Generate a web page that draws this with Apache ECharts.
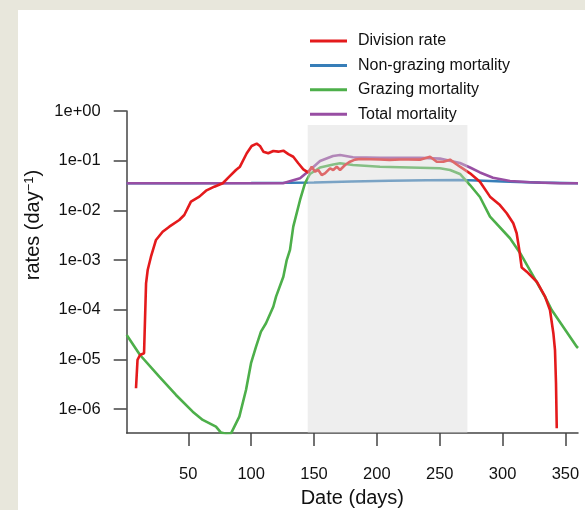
<!DOCTYPE html>
<html>
<head>
<meta charset="utf-8">
<script src="https://cdn.jsdelivr.net/npm/echarts@6/dist/echarts.min.js"></script>
<style>
    html, body { margin: 0; padding: 0; background: #e8e7dc; }
    #paper { position: absolute; left: 18px; top: 10px; width: 567px; height: 500px; background: #fff; }
    #chart { position: absolute; left: 0; top: 0; width: 585px; height: 510px; }
</style>
</head>
<body>
<div id="paper"></div>
<div id="chart"></div>
<script>
// values (day, rate per day)
var divisionDays = [8.4, 9.6, 11.6, 14.8, 16.4, 17.7, 20.3, 24.3, 29.6, 34.9, 42.8, 46.8, 52.1, 58.8, 64.1, 70.7, 77.4, 82.6, 87.9, 91.1,
    96.5, 100.4, 104.4, 107.0, 109.7, 113.6, 117.6, 121.6, 125.6, 129.6, 133.5, 137.5, 141.5, 145.5, 148.2, 150.8, 153.4, 156.1,
    158.7, 162.7, 165.3, 168.1, 170.7, 174.7, 178.6, 182.6, 186.6, 195, 202.5, 210, 218.4, 225, 234.3, 242.3, 247.6, 252.9, 258.2,
    266.1, 274.1, 282.0, 290.0, 297.9, 303.3, 308.5, 311.2, 313.3, 315.2, 319.2, 327.2, 333.8, 337.7, 340.4, 341.7, 342.5, 343.1];
var divisionRate = [2.63e-6, 9.77e-6, 1.23e-5, 1.33e-5, 3.41e-4, 6.32e-4, 1.17e-3, 2.54e-3, 3.72e-3, 4.70e-3, 6.41e-3, 8.07e-3, 0.0150,
    0.0189, 0.0249, 0.0300, 0.0351, 0.0477, 0.0650, 0.0757, 0.141, 0.198, 0.220, 0.198, 0.152, 0.141, 0.157, 0.152, 0.159, 0.136,
    0.120, 0.0887, 0.0671, 0.0574, 0.0757, 0.0601, 0.065, 0.0516, 0.0557, 0.0703, 0.065, 0.0757, 0.065, 0.0819, 0.0955, 0.105,
    0.108, 0.107, 0.106, 0.104, 0.106, 0.106, 0.105, 0.120, 0.0955, 0.0955, 0.105, 0.0757, 0.0557, 0.0378, 0.0189, 0.0128, 8.75e-3,
    5.50e-3, 3.46e-3, 1.60e-3, 7.1e-4, 5.85e-4, 3.67e-4, 1.84e-4, 9.9e-5, 3.37e-5, 1.55e-5, 3.32e-6, 4.13e-7];

var nonGrazingDays = [1, 50, 100, 130, 150, 180, 210, 240, 265, 280, 300, 330, 360];
var nonGrazingRate = [0.0351, 0.0352, 0.0355, 0.036, 0.0365, 0.038, 0.0395, 0.0405, 0.041, 0.040, 0.038, 0.0362, 0.0352];

var grazingDays = [1, 11.6, 26.9, 40.2, 53.5, 61.5, 72.0, 76.0, 80, 84, 90.6, 95.9, 99.9, 103.9, 107.8, 111.8, 117.6, 119.8, 125.6,
    128.3, 130.9, 133.5, 138.9, 142.8, 146.8, 154.8, 165.3, 170.7, 181.0, 202.5, 234.3, 250.2, 258.2, 266.1, 274.1, 282.0, 290.0,
    305.9, 313.9, 333.7, 339.1, 359, 360];
var grazingRate = [3.11e-5, 1.23e-5, 4.51e-6, 1.93e-6, 8.9e-7, 6.07e-7, 4.45e-7, 3.37e-7, 3.2e-7, 3.25e-7, 7.06e-7, 2.43e-6, 8.4e-6,
    1.81e-5, 3.63e-5, 5.35e-5, 1.15e-4, 1.84e-4, 4.63e-4, 1.0e-3, 1.6e-3, 4.7e-3, 0.0162, 0.0351, 0.054, 0.073, 0.0839, 0.0887,
    0.0819, 0.0757, 0.0723, 0.0703, 0.065, 0.054, 0.0324, 0.0186, 7.47e-3, 2.75e-3, 1.39e-3, 1.84e-4, 9.9e-5, 1.81e-5, 1.7e-5];

var totalDays = [1, 125.3, 138.9, 146.8, 154.8, 165.1, 170.7, 181.0, 202.5, 234.3, 250.2, 266.1, 274.1, 282.0, 292.4, 305.9, 321.8, 345.7, 360];
var totalRate = [0.0351, 0.0351, 0.0443, 0.065, 0.0986, 0.124, 0.130, 0.117, 0.115, 0.115, 0.110, 0.090, 0.073, 0.058, 0.0455, 0.0391,
    0.0367, 0.0351, 0.0351];

var seriesNames = ['Division rate', 'Non-grazing mortality', 'Grazing mortality', 'Total mortality'];
var seriesColors = ['#e41a1c', '#377eb8', '#4daf4a', '#984ea3'];
var xTicks = [50, 100, 150, 200, 250, 300, 350];
var yTicks = [1e-6, 1e-5, 1e-4, 1e-3, 1e-2, 1e-1, 1];
var shadedDays = [145, 272];
var shadedTop = 0.52;

var yMin = Math.pow(10, -6.48);

function pairs(xs, ys) {
    var out = [];
    for (var i = 0; i < xs.length; i++) {
        out.push([xs[i], ys[i]]);
    }
    return out;
}

function sciLabel(v) {
    var e = Math.round(Math.log10(v));
    var s = e < 0 ? '-' : '+';
    var a = Math.abs(e);
    return '1e' + s + (a < 10 ? '0' + a : '' + a);
}

var makeLine = function (name, idx, data, z) {
    return {
        name: name,
        type: 'line',
        data: data,
        symbol: 'none',
        z: z,
        lineStyle: { color: seriesColors[idx], width: 2.6 },
        itemStyle: { color: seriesColors[idx] }
    };
};

var chart = echarts.init(document.getElementById('chart'), null, { renderer: 'canvas' });
var font = 'Liberation Sans, Arial, Helvetica, sans-serif';

chart.setOption({
    animation: false,
    backgroundColor: 'transparent',
    textStyle: { fontFamily: font },
    grid: { left: 126.7, top: 111, right: 7, bottom: 77, outerBoundsMode: 'none', containLabel: false },
    legend: {
        data: seriesNames,
        orient: 'vertical',
        left: 305,
        top: 26,
        icon: 'rect',
        itemWidth: 37,
        itemHeight: 3,
        itemGap: 4.4,
        textStyle: { fontSize: 16, color: '#111', lineHeight: 20, padding: [0, 0, 0, 6], fontFamily: font }
    },
    xAxis: {
        type: 'value',
        min: 1,
        max: 360,
        name: 'Date (days)',
        nameLocation: 'middle',
        nameGap: 55,
        nameTextStyle: { fontSize: 20, color: '#111', fontFamily: font },
        splitLine: { show: false },
        axisLine: { lineStyle: { color: '#444', width: 1.5 } },
        axisTick: { customValues: xTicks, length: 13, lineStyle: { color: '#444', width: 1.5 } },
        axisLabel: { customValues: xTicks, margin: 33, fontSize: 16.5, color: '#111', fontFamily: font }
    },
    yAxis: {
        type: 'log',
        logBase: 10,
        min: yMin,
        max: 1,
        splitLine: { show: false },
        axisLine: { show: true, lineStyle: { color: '#444', width: 1.5 } },
        axisTick: { show: true, customValues: yTicks, length: 13, lineStyle: { color: '#444', width: 1.5 } },
        axisLabel: { customValues: yTicks, margin: 26, fontSize: 16.5, color: '#111', fontFamily: font, formatter: sciLabel }
    },
    graphic: [
        {
            type: 'text',
            x: 33,
            y: 225,
            rotation: Math.PI / 2,
            style: {
                text: 'rates (day{sup|\u22121})',
                font: '20px ' + font,
                fill: '#111',
                align: 'center',
                verticalAlign: 'middle',
                rich: {
                    sup: { fontSize: 13, verticalAlign: 'top', lineHeight: 13, fill: '#111' }
                }
            }
        }
    ],
    series: [
        makeLine(seriesNames[0], 0, pairs(divisionDays, divisionRate), 6),
        makeLine(seriesNames[1], 1, pairs(nonGrazingDays, nonGrazingRate), 3),
        makeLine(seriesNames[2], 2, pairs(grazingDays, grazingRate), 4),
        makeLine(seriesNames[3], 3, pairs(totalDays, totalRate), 5),
        {
            name: 'shade',
            type: 'line',
            data: [],
            z: 10,
            silent: true,
            markArea: {
                silent: true,
                z: 10,
                itemStyle: { color: 'rgba(214,214,214,0.42)', borderWidth: 0 },
                data: [[
                    { coord: [shadedDays[0], shadedTop] },
                    { coord: [shadedDays[1], yMin] }
                ]]
            }
        }
    ]
});
</script>
</body>
</html>
